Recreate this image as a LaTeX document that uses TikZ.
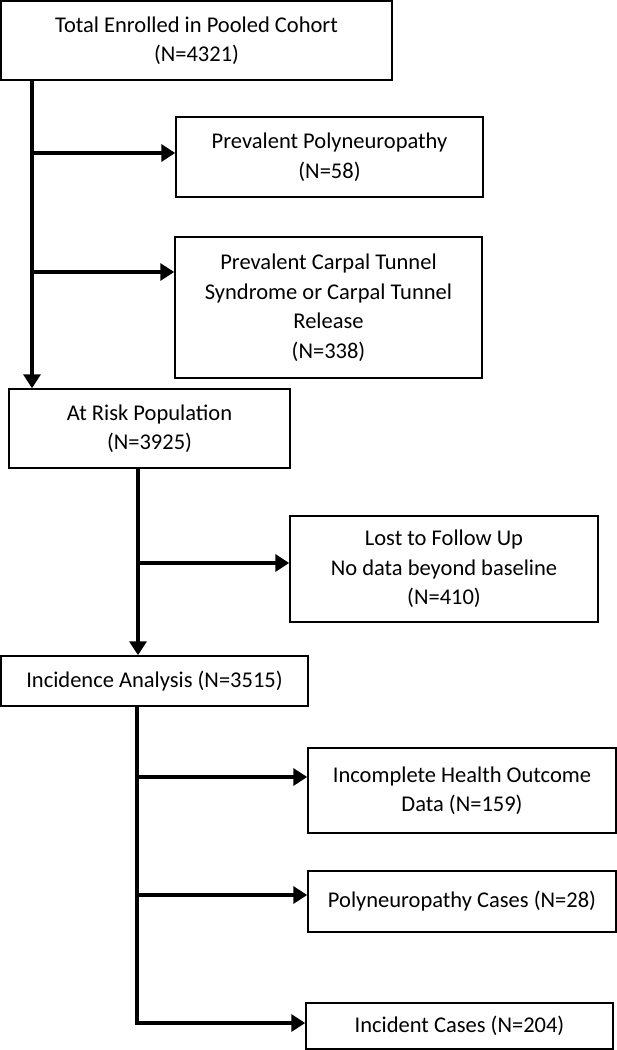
\documentclass[tikz,border=0pt]{standalone}
\usepackage{fontspec}
\setmainfont{Carlito}
\usetikzlibrary{arrows.meta}
\begin{document}
\begin{tikzpicture}[x=1pt,y=-1pt,
  box/.style={draw, line width=1.5pt, align=center, inner sep=0pt, font=\fontsize{22.5}{29.5}\selectfont},
  flow/.style={line width=4pt, -{Triangle[length=14pt,width=17pt]}},
  bar/.style={line width=4pt}]
\useasboundingbox (0,0) rectangle (617,1050);
\node[box, minimum width=391pt, minimum height=79pt] (b1) at (196.5,40.5) {Total Enrolled in Pooled Cohort\\(N=4321)};
\node[box, minimum width=307pt, minimum height=80pt] (b2) at (329.5,157) {Prevalent Polyneuropathy\\(N=58)};
\node[box, minimum width=307pt, minimum height=141pt] (b3) at (328.5,307.5) {Prevalent Carpal Tunnel\\Syndrome or Carpal Tunnel\\Release\\(N=338)};
\node[box, minimum width=281pt, minimum height=79pt] (b4) at (149.5,428.5) {At Risk Population\\(N=3925)};
\node[box, minimum width=308pt, minimum height=106pt] (b6) at (444,569) {Lost to Follow Up\\No data beyond baseline\\(N=410)};
\node[box, minimum width=307pt, minimum height=50pt] (b5) at (154.5,681) {Incidence Analysis (N=3515)};
\node[box, minimum width=308pt, minimum height=85pt] (b7) at (462,790.5) {Incomplete Health Outcome\\Data (N=159)};
\node[box, minimum width=308pt, minimum height=61pt] (b8) at (462,901.5) {Polyneuropathy Cases (N=28)};
\node[box, minimum width=307pt, minimum height=46pt] (b9) at (459.5,1026) {Incident Cases (N=204)};
\coordinate (k1) at (32,153);
\coordinate (k2) at (32,272);
\coordinate (k3) at (138,563);
\coordinate (k4) at (137,777);
\coordinate (k5) at (137,895);
\coordinate (k6) at (137,1023);
\draw[flow] (b1.south -| k1) -- (b4.north -| k1);
\draw[flow] (k1) -- (k1 -| b2.west);
\draw[flow] (k2) -- (k2 -| b3.west);
\draw[flow] (b4.south -| k3) -- (b5.north -| k3);
\draw[flow] (k3) -- (k3 -| b6.west);
\draw[flow] (b5.south -| k6) -- (k6) -- (k6 -| b9.west);
\draw[flow] (k4) -- (k4 -| b7.west);
\draw[flow] (k5) -- (k5 -| b8.west);
\end{tikzpicture}
\end{document}
